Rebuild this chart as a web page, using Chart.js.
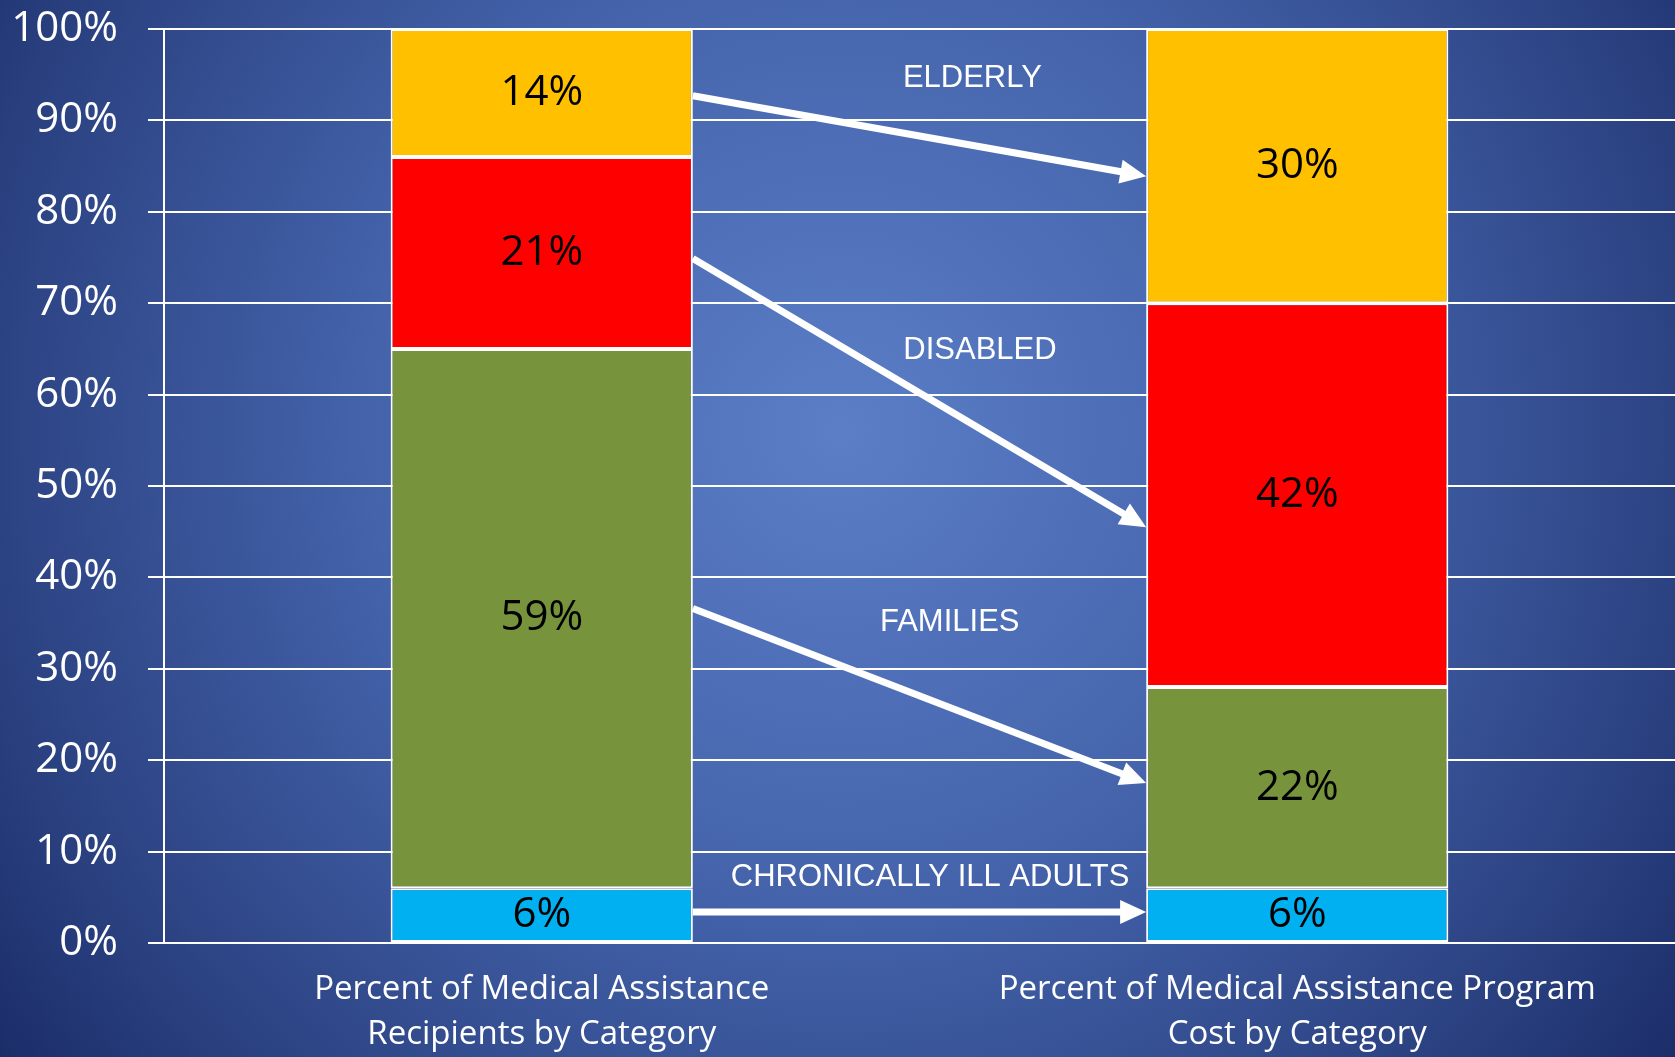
<!DOCTYPE html>
<html lang="en">
<head>
  <meta charset="UTF-8" />
  <title>Medical Assistance by Category</title>
  <script src="https://cdn.jsdelivr.net/npm/chart.js"></script>
  <style>
    html, body { margin: 0; padding: 0; background: #2b4384; }
    #wrap { width: 1675px; height: 1057px; position: relative; }
  </style>
</head>
<body>
  <div id="wrap">
    <canvas id="grafico"></canvas>
  </div>

  <script>
    // categorias (eje x)
    const categories = [
      ['Percent of Medical Assistance', 'Recipients by Category'],
      ['Percent of Medical Assistance Program', 'Cost by Category']
    ];

    // series (de abajo hacia arriba)
    const chronicallyIll = [6, 6];
    const families = [59, 22];
    const disabled = [21, 42];
    const elderly = [14, 30];

    const yMax = 100;
    const yStep = 10;

    // flechas: valor (%) donde salen del primer bar y llegan al segundo
    const arrowNames = ['ELDERLY', 'DISABLED', 'FAMILIES', 'CHRONICALLY ILL ADULTS'];
    const arrowFrom = [92.7, 74.9, 36.6, 3.4];
    const arrowTo = [83.9, 45.5, 17.5, 3.4];
    const arrowNameX = [0.57, 0.58, 0.54, 0.514];   // en unidades de categoria
    const arrowNameY = [94.6, 64.8, 35.1, 7.2];     // en %

    // fondo degradado
    const fondo = {
      id: 'fondo',
      beforeDraw(chart) {
        const { ctx, width, height } = chart;
        const g = ctx.createRadialGradient(840, 430, 0, 840, 430, 1050);
        g.addColorStop(0, '#5b7ec7');
        g.addColorStop(0.45, '#4463ab');
        g.addColorStop(0.8, '#2c4383');
        g.addColorStop(1, '#1b2d69');
        ctx.save();
        ctx.fillStyle = g;
        ctx.fillRect(0, 0, width, height);
        ctx.restore();
      }
    };

    // etiquetas dentro de las barras
    const etiquetas = {
      id: 'etiquetas',
      afterDatasetsDraw(chart) {
        const ctx = chart.ctx;
        ctx.save();
        ctx.font = '42px "Open Sans"';
        ctx.fillStyle = '#000';
        ctx.textAlign = 'center';
        ctx.textBaseline = 'middle';
        chart.data.datasets.forEach((ds, i) => {
          chart.getDatasetMeta(i).data.forEach((bar, j) => {
            ctx.fillText(ds.data[j] + '%', bar.x, (bar.y + bar.base) / 2);
          });
        });
        ctx.restore();
      }
    };

    // flechas entre las barras
    const flechas = {
      id: 'flechas',
      afterDatasetsDraw(chart) {
        const ctx = chart.ctx;
        const xs = chart.scales.x;
        const ys = chart.scales.y;
        const bars = chart.getDatasetMeta(0).data;
        const x1 = bars[0].x + bars[0].width / 2;
        const x2 = bars[1].x - bars[1].width / 2;
        ctx.save();
        ctx.strokeStyle = '#fff';
        ctx.fillStyle = '#fff';
        ctx.lineWidth = 7;
        arrowFrom.forEach((v, i) => {
          const y1 = ys.getPixelForValue(v);
          const y2 = ys.getPixelForValue(arrowTo[i]);
          const ang = Math.atan2(y2 - y1, x2 - x1);
          const head = 26, half = 12;
          const bx = x2 - head * Math.cos(ang);
          const by = y2 - head * Math.sin(ang);
          ctx.beginPath();
          ctx.moveTo(x1, y1);
          ctx.lineTo(bx + 2 * Math.cos(ang), by + 2 * Math.sin(ang));
          ctx.stroke();
          ctx.beginPath();
          ctx.moveTo(x2, y2);
          ctx.lineTo(bx - half * Math.sin(ang), by + half * Math.cos(ang));
          ctx.lineTo(bx + half * Math.sin(ang), by - half * Math.cos(ang));
          ctx.closePath();
          ctx.fill();
        });
        ctx.font = '31px "Liberation Sans", Arial';
        ctx.textAlign = 'center';
        ctx.textBaseline = 'middle';
        arrowNames.forEach((name, i) => {
          ctx.fillText(name, xs.getPixelForValue(arrowNameX[i]), ys.getPixelForValue(arrowNameY[i]));
        });
        ctx.restore();
      }
    };

    const ctx = document.getElementById('grafico').getContext('2d');
    new Chart(ctx, {
      type: 'bar',
      data: {
        labels: categories,
        datasets: [
          { label: 'Chronically Ill Adults', data: chronicallyIll, backgroundColor: '#00b0f0' },
          { label: 'Families', data: families, backgroundColor: '#77933c' },
          { label: 'Disabled', data: disabled, backgroundColor: '#ff0000' },
          { label: 'Elderly', data: elderly, backgroundColor: '#ffc000' }
        ].map(d => Object.assign(d, {
          borderColor: '#ffffff',
          borderWidth: 2,
          borderSkipped: false,
          barPercentage: 0.4,
          categoryPercentage: 1.0
        }))
      },
      options: {
        responsive: true,
        maintainAspectRatio: false,
        animation: false,
        layout: { padding: { top: 29, left: 0, right: -8, bottom: 0 } },
        plugins: {
          legend: { display: false },
          tooltip: { enabled: false }
        },
        scales: {
          x: {
            stacked: true,
            grid: { display: false },
            border: { display: false },
            ticks: {
              color: '#ffffff',
              padding: 16,
              maxRotation: 0,
              autoSkip: false,
              font: { family: '"Open Sans"', size: 33, lineHeight: 1.36 }
            },
            afterFit(scale) {
              scale.height = 114;
              scale.paddingLeft = 0;
              scale.paddingRight = 0;
            }
          },
          y: {
            stacked: true,
            min: 0,
            max: yMax,
            grid: { color: '#ffffff', lineWidth: 2, tickLength: 16 },
            border: { color: '#ffffff', width: 2 },
            ticks: {
              stepSize: yStep,
              color: '#ffffff',
              padding: 30,
              font: { family: '"Open Sans"', size: 42 },
              callback: v => v + '%'
            },
            afterFit(scale) {
              scale.width = 164;
              scale.paddingTop = 0;
              scale.paddingBottom = 0;
            }
          }
        }
      },
      plugins: [fondo, etiquetas, flechas]
    });
  </script>
</body>
</html>
